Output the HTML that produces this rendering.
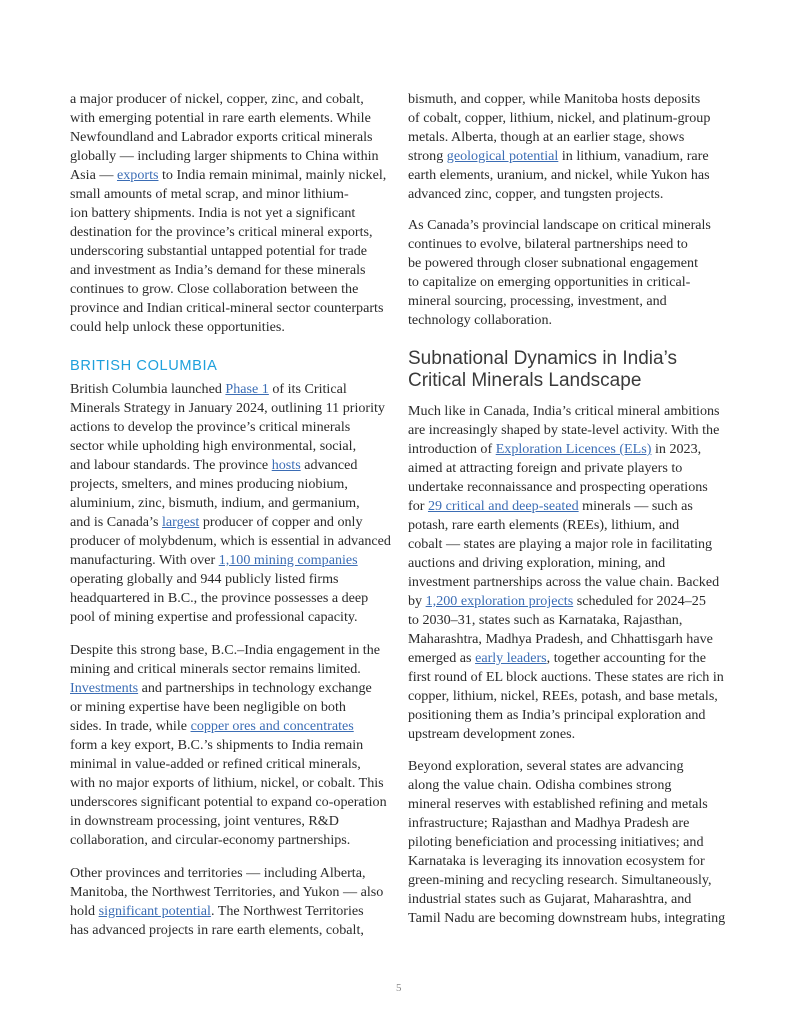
<!DOCTYPE html>
<html><head><meta charset="utf-8"><style>
body{margin:0;width:800px;height:1035px;background:#fff;position:relative;overflow:hidden;font-family:"Liberation Serif",serif;color:#2a2a2a;}
.l{position:absolute;white-space:nowrap;font-size:14.1px;line-height:19px;}
a{color:#3b6db5;text-decoration:underline;}
.h{position:absolute;font-family:"Liberation Sans",sans-serif;color:#1ea0dc;font-size:14.6px;letter-spacing:0.6px;}
.h2{position:absolute;font-family:"Liberation Sans",sans-serif;color:#3a3a3a;font-size:19px;line-height:22px;white-space:nowrap;}
</style></head><body>
<div class="l" style="left:70px;top:90px">a major producer of nickel, copper, zinc, and cobalt,</div>
<div class="l" style="left:70px;top:109px">with emerging potential in rare earth elements. While</div>
<div class="l" style="left:70px;top:128px">Newfoundland and Labrador exports critical minerals</div>
<div class="l" style="left:70px;top:147px">globally — including larger shipments to China within</div>
<div class="l" style="left:70px;top:166px">Asia — <a>exports</a> to India remain minimal, mainly nickel,</div>
<div class="l" style="left:70px;top:185px">small amounts of metal scrap, and minor lithium-</div>
<div class="l" style="left:70px;top:204px">ion battery shipments. India is not yet a significant</div>
<div class="l" style="left:70px;top:223px">destination for the province’s critical mineral exports,</div>
<div class="l" style="left:70px;top:242px">underscoring substantial untapped potential for trade</div>
<div class="l" style="left:70px;top:261px">and investment as India’s demand for these minerals</div>
<div class="l" style="left:70px;top:280px">continues to grow. Close collaboration between the</div>
<div class="l" style="left:70px;top:299px">province and Indian critical-mineral sector counterparts</div>
<div class="l" style="left:70px;top:318px">could help unlock these opportunities.</div>
<div class="h" style="left:70px;top:358px">BRITISH COLUMBIA</div>
<div class="l" style="left:70px;top:380px">British Columbia launched <a>Phase 1</a> of its Critical</div>
<div class="l" style="left:70px;top:399px">Minerals Strategy in January 2024, outlining 11 priority</div>
<div class="l" style="left:70px;top:418px">actions to develop the province’s critical minerals</div>
<div class="l" style="left:70px;top:437px">sector while upholding high environmental, social,</div>
<div class="l" style="left:70px;top:456px">and labour standards. The province <a>hosts</a> advanced</div>
<div class="l" style="left:70px;top:475px">projects, smelters, and mines producing niobium,</div>
<div class="l" style="left:70px;top:494px">aluminium, zinc, bismuth, indium, and germanium,</div>
<div class="l" style="left:70px;top:513px">and is Canada’s <a>largest</a> producer of copper and only</div>
<div class="l" style="left:70px;top:532px">producer of molybdenum, which is essential in advanced</div>
<div class="l" style="left:70px;top:551px">manufacturing. With over <a>1,100 mining companies</a></div>
<div class="l" style="left:70px;top:570px">operating globally and 944 publicly listed firms</div>
<div class="l" style="left:70px;top:589px">headquartered in B.C., the province possesses a deep</div>
<div class="l" style="left:70px;top:608px">pool of mining expertise and professional capacity.</div>
<div class="l" style="left:70px;top:641px">Despite this strong base, B.C.–India engagement in the</div>
<div class="l" style="left:70px;top:660px">mining and critical minerals sector remains limited.</div>
<div class="l" style="left:70px;top:679px"><a>Investments</a> and partnerships in technology exchange</div>
<div class="l" style="left:70px;top:698px">or mining expertise have been negligible on both</div>
<div class="l" style="left:70px;top:717px">sides. In trade, while <a>copper ores and concentrates </a></div>
<div class="l" style="left:70px;top:736px">form a key export, B.C.’s shipments to India remain</div>
<div class="l" style="left:70px;top:755px">minimal in value-added or refined critical minerals,</div>
<div class="l" style="left:70px;top:774px">with no major exports of lithium, nickel, or cobalt. This</div>
<div class="l" style="left:70px;top:793px">underscores significant potential to expand co-operation</div>
<div class="l" style="left:70px;top:812px">in downstream processing, joint ventures, R&amp;D</div>
<div class="l" style="left:70px;top:831px">collaboration, and circular-economy partnerships.</div>
<div class="l" style="left:70px;top:864px">Other provinces and territories — including Alberta,</div>
<div class="l" style="left:70px;top:883px">Manitoba, the Northwest Territories, and Yukon — also</div>
<div class="l" style="left:70px;top:902px">hold <a>significant potential</a>. The Northwest Territories</div>
<div class="l" style="left:70px;top:921px">has advanced projects in rare earth elements, cobalt,</div>

<div class="l" style="left:408px;top:90px">bismuth, and copper, while Manitoba hosts deposits</div>
<div class="l" style="left:408px;top:109px">of cobalt, copper, lithium, nickel, and platinum-group</div>
<div class="l" style="left:408px;top:128px">metals. Alberta, though at an earlier stage, shows</div>
<div class="l" style="left:408px;top:147px">strong <a>geological potential</a> in lithium, vanadium, rare</div>
<div class="l" style="left:408px;top:166px">earth elements, uranium, and nickel, while Yukon has</div>
<div class="l" style="left:408px;top:185px">advanced zinc, copper, and tungsten projects.</div>
<div class="l" style="left:408px;top:216px">As Canada’s provincial landscape on critical minerals</div>
<div class="l" style="left:408px;top:235px">continues to evolve, bilateral partnerships need to</div>
<div class="l" style="left:408px;top:254px">be powered through closer subnational engagement</div>
<div class="l" style="left:408px;top:273px">to capitalize on emerging opportunities in critical-</div>
<div class="l" style="left:408px;top:292px">mineral sourcing, processing, investment, and</div>
<div class="l" style="left:408px;top:311px">technology collaboration.</div>
<div class="h2" style="left:408px;top:348px">Subnational Dynamics in India’s</div>
<div class="h2" style="left:408px;top:370px">Critical Minerals Landscape</div>
<div class="l" style="left:408px;top:402px">Much like in Canada, India’s critical mineral ambitions</div>
<div class="l" style="left:408px;top:421px">are increasingly shaped by state-level activity. With the</div>
<div class="l" style="left:408px;top:440px">introduction of <a>Exploration Licences (ELs)</a> in 2023,</div>
<div class="l" style="left:408px;top:459px">aimed at attracting foreign and private players to</div>
<div class="l" style="left:408px;top:478px">undertake reconnaissance and prospecting operations</div>
<div class="l" style="left:408px;top:497px">for <a>29 critical and deep-seated</a> minerals — such as</div>
<div class="l" style="left:408px;top:516px">potash, rare earth elements (REEs), lithium, and</div>
<div class="l" style="left:408px;top:535px">cobalt — states are playing a major role in facilitating</div>
<div class="l" style="left:408px;top:554px">auctions and driving exploration, mining, and</div>
<div class="l" style="left:408px;top:573px">investment partnerships across the value chain. Backed</div>
<div class="l" style="left:408px;top:592px">by <a>1,200 exploration projects</a> scheduled for 2024–25</div>
<div class="l" style="left:408px;top:611px">to 2030–31, states such as Karnataka, Rajasthan,</div>
<div class="l" style="left:408px;top:630px">Maharashtra, Madhya Pradesh, and Chhattisgarh have</div>
<div class="l" style="left:408px;top:649px">emerged as <a>early leaders</a>, together accounting for the</div>
<div class="l" style="left:408px;top:668px">first round of EL block auctions. These states are rich in</div>
<div class="l" style="left:408px;top:687px">copper, lithium, nickel, REEs, potash, and base metals,</div>
<div class="l" style="left:408px;top:706px">positioning them as India’s principal exploration and</div>
<div class="l" style="left:408px;top:725px">upstream development zones.</div>
<div class="l" style="left:408px;top:757px">Beyond exploration, several states are advancing</div>
<div class="l" style="left:408px;top:776px">along the value chain. Odisha combines strong</div>
<div class="l" style="left:408px;top:795px">mineral reserves with established refining and metals</div>
<div class="l" style="left:408px;top:814px">infrastructure; Rajasthan and Madhya Pradesh are</div>
<div class="l" style="left:408px;top:833px">piloting beneficiation and processing initiatives; and</div>
<div class="l" style="left:408px;top:852px">Karnataka is leveraging its innovation ecosystem for</div>
<div class="l" style="left:408px;top:871px">green-mining and recycling research. Simultaneously,</div>
<div class="l" style="left:408px;top:890px">industrial states such as Gujarat, Maharashtra, and</div>
<div class="l" style="left:408px;top:909px">Tamil Nadu are becoming downstream hubs, integrating</div>
<div class="l" style="left:396px;top:979px;font-size:11px;color:#888">5</div>
</body></html>
